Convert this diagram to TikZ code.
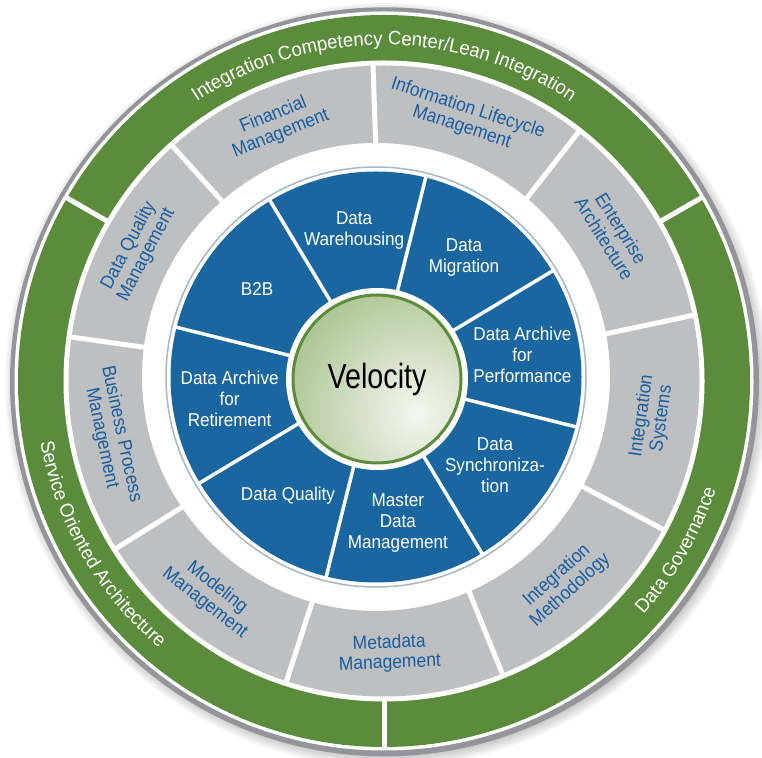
\documentclass[tikz,border=0pt]{standalone}
\usepackage{fontspec}
\setmainfont{Liberation Sans}
\newfontfamily\segf{Liberation Sans}[FakeStretch=0.92]
\newfontfamily\arcf{Liberation Sans}[FakeStretch=0.96]
\newfontfamily\velf{Liberation Sans}[FakeStretch=0.82]
\usetikzlibrary{calc,decorations.text}
\definecolor{ringgreen}{RGB}{91,140,59}
\definecolor{segray}{RGB}{190,191,193}
\definecolor{segblue}{RGB}{25,102,160}
\definecolor{txtblue}{RGB}{24,94,160}
\definecolor{bordergray}{RGB}{147,149,152}
\definecolor{thinline}{RGB}{168,184,196}
\definecolor{velgreen}{RGB}{140,174,104}
\definecolor{velhi}{RGB}{244,247,240}
\begin{document}
\begin{tikzpicture}[x=1pt,y=1pt,
  bluetxt/.style={font=\segf\fontsize{18.6}{21}\selectfont, text=white, align=center, inner sep=0pt},
  graytxt/.style={font=\segf\fontsize{19}{20}\selectfont, text=txtblue, align=center, inner sep=0pt},
  divider/.style={draw=white, line width=5pt},
  bdivider/.style={draw=white, line width=3.5pt},
  arctext/.style={decorate, decoration={text along path, text align=center, text color=white,
     text={|\arcf\fontsize{19.3}{20}\selectfont|#1}}}
]
\fill[white] (0,0) rectangle (762,757);
\useasboundingbox (0,0) rectangle (762,757);
\coordinate (c1) at (384,376);
\coordinate (c2) at (376,380);
\coordinate (cm) at (380,378);
\coordinate (cv) at (377,378);
% soft shadow
\foreach \r in {372,374,...,382}
  \fill[black, opacity=0.035] ($(c1)+(3,-4)$) circle (\r);
% outer border and green ring
\fill[bordergray] ($(c1)+(0.5,-0.8)$) circle (374.5);
\fill[white] (c1) circle (369.5);
\fill[ringgreen] (c1) circle (366);
\fill[white] (c1) circle (320.5);
\foreach \a in {30,150,270}
  \draw[divider] ($(c1)+(\a:316)$) -- ($(c1)+(\a:368)$);
% gray ring
\fill[segray, even odd rule] (c1) circle (315.5) (c2) circle (234);
\foreach \a in {92,52,12,-28,-68,-108,-148,-188,-228}
  \draw[divider] ($(c1)+(\a:222)$) -- ($(c1)+(\a:318)$);
% blue ring
\draw[thinline, line width=1.5pt] (c2) circle (210);
\fill[segblue] (c2) circle (205.5);
\foreach \a in {76,121,166,211,256,301,346,391}
  \draw[bdivider] ($(c2)+(\a:85)$) -- ($(c2)+(\a:207)$);
\fill[white] (cv) circle (91);
% velocity disk
\begin{scope}
  \clip (cv) circle (84);
  \fill[velgreen] (cv) circle (84);
  \shade[inner color=velhi, outer color=velgreen] ($(cv)+(40,-34)$) circle (200);
\end{scope}
\draw[ringgreen, line width=3pt] (cv) circle (84);
\node[font=\velf\fontsize{35}{40}\selectfont, text=black] (vel) at (cv) {Velocity};
% blue segment labels
\node[bluetxt] (b1) at ($(c2)+(98.5:148)$) {Data\\Warehousing};
\node[bluetxt] (b2) at ($(c2)+(143.5:148)$) {B2B};
\node[bluetxt] (b3) at ($(c2)+(188.5:148)$) {Data Archive\\for\\Retirement};
\node[bluetxt] (b4) at ($(c2)+(233.5:148)$) {Data Quality};
\node[bluetxt] (b5) at ($(c2)+(278.5:148)$) {Master\\Data\\Management};
\node[bluetxt] (b6) at ($(c2)+(323.5:148)$) {Data\\Synchroniza-\\tion};
\node[bluetxt] (b7) at ($(c2)+(8.5:148)$) {Data Archive\\for\\Performance};
\node[bluetxt] (b8) at ($(c2)+(53.5:148)$) {Data\\Migration};
% gray segment labels
\node[graytxt, rotate=22] (g1) at ($(cm)+(112:274.5)$) {Financial\\Management};
\node[graytxt, rotate=-18] (g2) at ($(cm)+(72:274.5)$) {Information Lifecycle\\Management};
\node[graytxt, rotate=-58] (g3) at ($(cm)+(32:274.5)$) {Enterprise\\Architecture};
\node[graytxt, rotate=82] (g4) at ($(cm)+(-8:274.5)$) {Integration\\Systems};
\node[graytxt, rotate=42] (g5) at ($(cm)+(-48:274.5)$) {Integration\\Methodology};
\node[graytxt, rotate=2] (g6) at ($(cm)+(-88:274.5)$) {Metadata\\Management};
\node[graytxt, rotate=-38] (g7) at ($(cm)+(-128:274.5)$) {Modeling\\Management};
\node[graytxt, rotate=-78] (g8) at ($(cm)+(192:274.5)$) {Business Process\\Management};
\node[graytxt, rotate=62] (g9) at ($(cm)+(152:274.5)$) {Data Quality\\Management};
% green ring labels
\path[arctext={Integration Competency Center/Lean Integration}]
  ($(c1)+(150:336)$) arc[start angle=150, end angle=30, radius=336];
\path[arctext={Service Oriented Architecture}]
  ($(c1)+(150:349)$) arc[start angle=150, end angle=270, radius=349];
\path[arctext={Data Governance}]
  ($(c1)+(270:349)$) arc[start angle=270, end angle=390, radius=349];
\end{tikzpicture}
\end{document}
